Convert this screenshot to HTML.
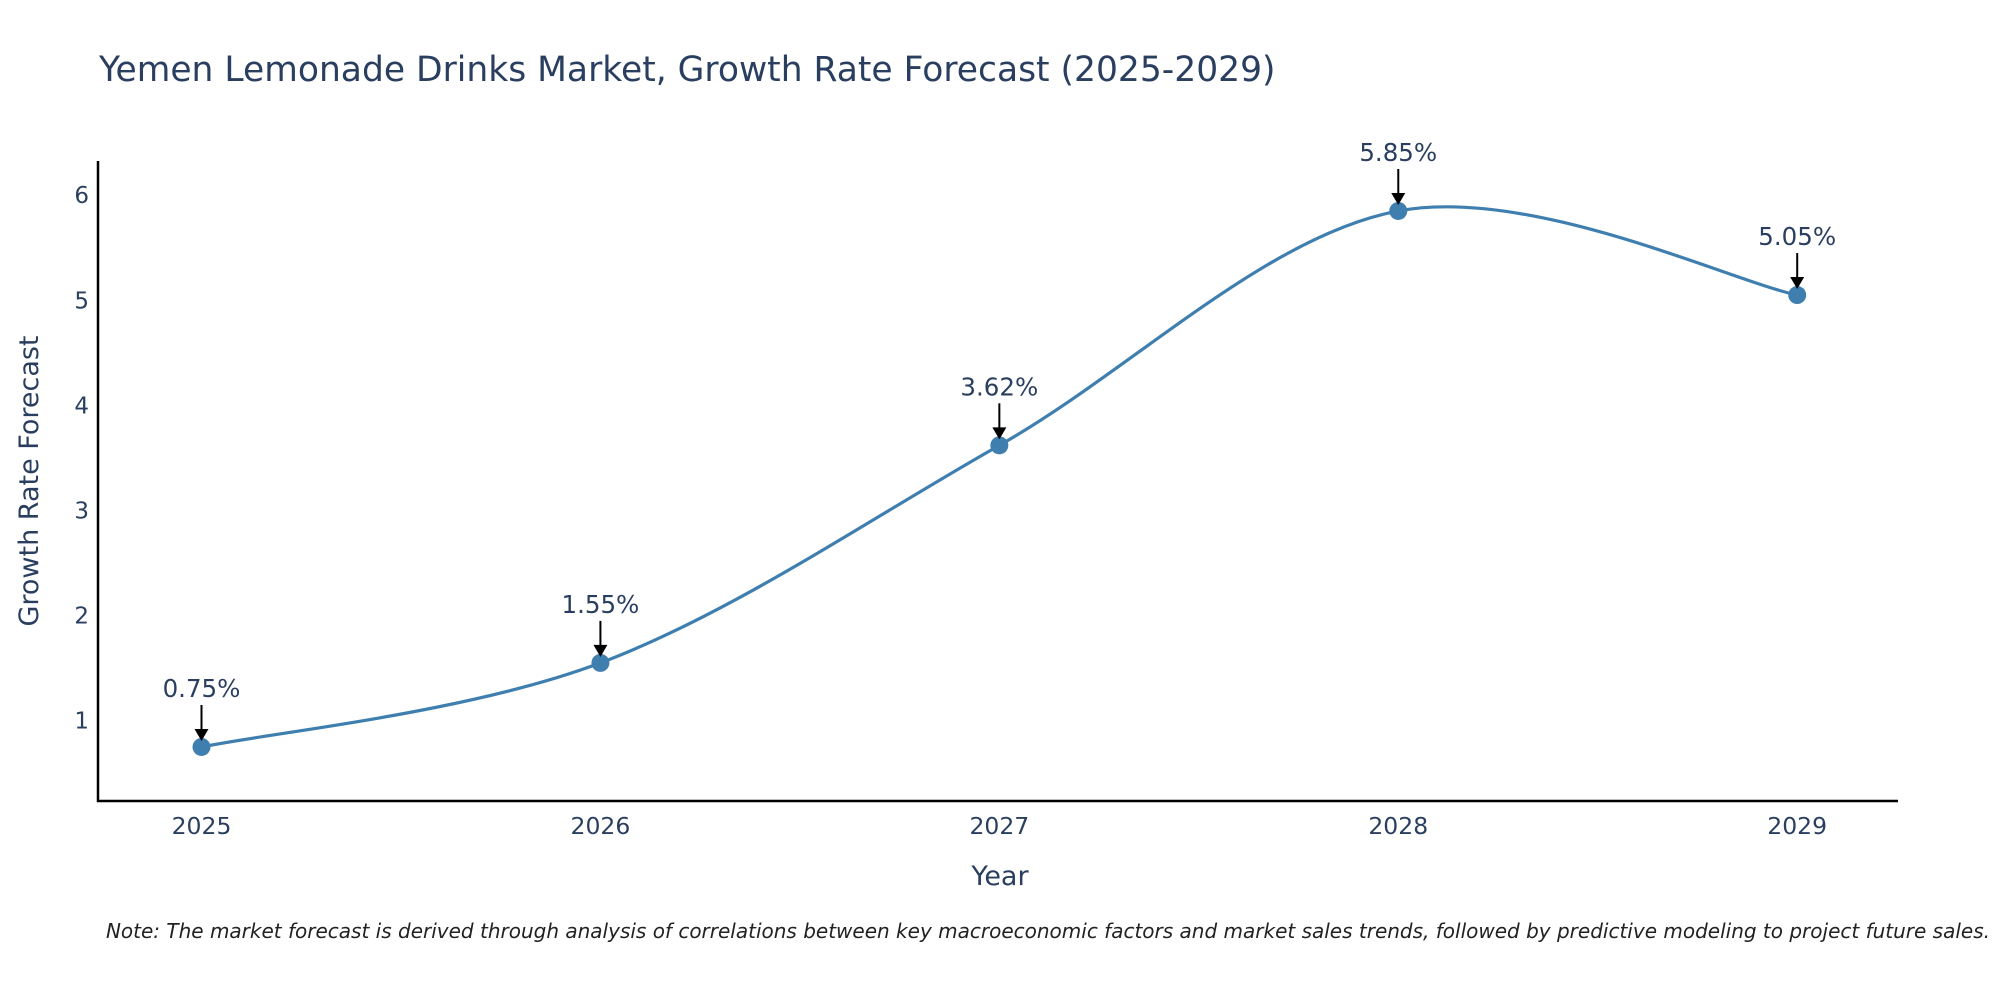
<!DOCTYPE html>
<html><head><meta charset="utf-8"><style>
body{margin:0;background:#fff;}
svg{display:block;font-family:"DejaVu Sans","Liberation Sans",sans-serif;}
</style></head><body>
<svg id="chart" width="2000" height="1000" viewBox="0 0 2000 1000" xmlns="http://www.w3.org/2000/svg">
<text x="99" y="81" font-size="34.5" fill="#2a3f5f">Yemen Lemonade Drinks Market, Growth Rate Forecast (2025-2029)</text>
<g id="plot"></g>
<text x="1000" y="885" font-size="27" fill="#2a3f5f" text-anchor="middle">Year</text>
<text transform="translate(38,481) rotate(-90)" font-size="27" fill="#2a3f5f" text-anchor="middle">Growth Rate Forecast</text>
<text x="1990" y="938" font-size="20" font-style="italic" fill="#222" text-anchor="end">Note: The market forecast is derived through analysis of correlations between key macroeconomic factors and market sales trends, followed by predictive modeling to project future sales.</text>
</svg>
<script>
const years = [2025, 2026, 2027, 2028, 2029];
const growth = [0.75, 1.55, 3.62, 5.85, 5.05];
const labels = ["0.75%", "1.55%", "3.62%", "5.85%", "5.05%"];
const yTicks = [1, 2, 3, 4, 5, 6];

const NS = "http://www.w3.org/2000/svg";
const g = document.getElementById("plot");
const X0 = 98, X1 = 1898, YB = 801, YT = 161;
const xs = v => 201.5 + (v - 2025) * (1797.2 - 201.5) / 4;
const ys = v => 825.8 - v * 105.1;
function mk(tag, attrs, parent) {
  const e = document.createElementNS(NS, tag);
  for (const k in attrs) e.setAttribute(k, attrs[k]);
  (parent || g).appendChild(e);
  return e;
}
let e;
e = mk("line", {x1: X0, y1: YT, x2: X0, y2: YB + 1, stroke: "#000", "stroke-width": 2.5});


e = mk("line", {x1: X0 - 1, y1: YB, x2: X1, y2: YB, stroke: "#000", "stroke-width": 2.5});


yTicks.forEach(t => {
  const tx = mk("text", {x: 89, y: ys(t) + 8, "font-size": 23, fill: "#2a3f5f", "text-anchor": "end"});
  tx.textContent = t;
  
  
});
years.forEach(yv => {
  const tx = mk("text", {x: xs(yv), y: 834, "font-size": 23.5, fill: "#2a3f5f", "text-anchor": "middle"});
  tx.textContent = yv;
  
  
});
const pts = years.map((yv, i) => [xs(yv), ys(growth[i])]);
let d = "M" + pts[0][0] + "," + pts[0][1];
for (let i = 0; i < pts.length - 1; i++) {
  const p0 = pts[Math.max(0, i - 1)], p1 = pts[i], p2 = pts[i + 1], p3 = pts[Math.min(pts.length - 1, i + 2)];
  const c1 = [p1[0] + (p2[0] - p0[0]) / 6, p1[1] + (p2[1] - p0[1]) / 6];
  const c2 = [p2[0] - (p3[0] - p1[0]) / 6, p2[1] - (p3[1] - p1[1]) / 6];
  d += " C" + c1 + " " + c2 + " " + p2;
}
e = mk("path", {d: d, fill: "none", stroke: "#3f7fb0", "stroke-width": 3.2});


pts.forEach((p, i) => {
  const c = mk("circle", {cx: p[0], cy: p[1], r: 9, fill: "#3f7fb0"});
  
  
  const ln = mk("line", {x1: p[0], y1: p[1] - 42, x2: p[0], y2: p[1] - 16, stroke: "#000", "stroke-width": 2});
  
  
  const hd = mk("path", {d: `M${p[0]-7},${p[1]-18} L${p[0]+7},${p[1]-18} L${p[0]},${p[1]-6} Z`, fill: "#000"});
  
  
  const t = mk("text", {x: p[0], y: p[1] - 50, "font-size": 24.5, fill: "#2a3f5f", "text-anchor": "middle"});
  t.textContent = labels[i];
  
  
});
</script>
</body></html>
